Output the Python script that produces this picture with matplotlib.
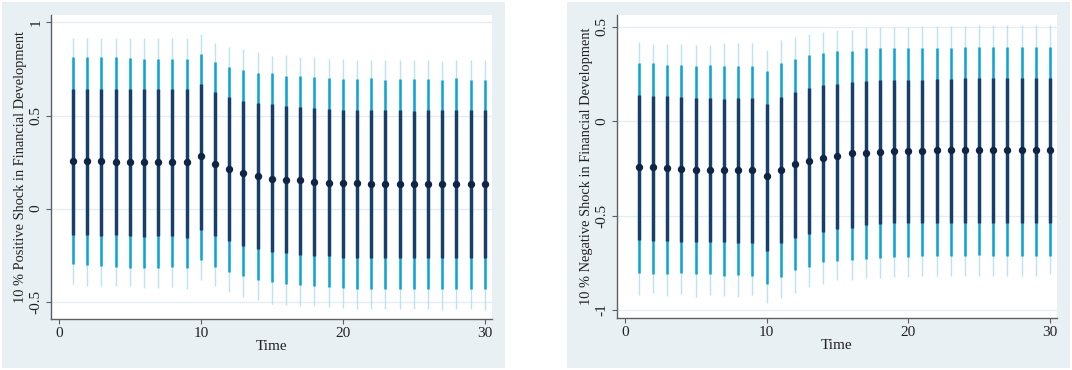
import matplotlib.pyplot as plt
from matplotlib.patches import Rectangle

plt.rcParams['font.family'] = ['Liberation Serif', 'DejaVu Serif']

time = list(range(1, 31))

# 10 % positive shock: point estimate and three confidence bands
pos_irf = [0.258, 0.256, 0.254, 0.252, 0.250, 0.249, 0.249, 0.249, 0.249, 0.281,
           0.238, 0.211, 0.191, 0.177, 0.161, 0.156, 0.151, 0.143, 0.140, 0.136,
           0.135, 0.134, 0.134, 0.134, 0.133, 0.133, 0.133, 0.133, 0.133, 0.133]
pos_dark_lo = [-0.140, -0.140, -0.147, -0.144, -0.147, -0.152, -0.149, -0.149, -0.158, -0.117,
               -0.147, -0.176, -0.201, -0.219, -0.233, -0.237, -0.249, -0.256, -0.256, -0.263,
               -0.264, -0.265, -0.265, -0.265, -0.267, -0.265, -0.266, -0.266, -0.266, -0.266]
pos_dark_hi = [0.645, 0.645, 0.643, 0.640, 0.642, 0.643, 0.643, 0.643, 0.643, 0.672,
               0.624, 0.597, 0.578, 0.565, 0.561, 0.550, 0.546, 0.538, 0.534, 0.530,
               0.530, 0.528, 0.528, 0.528, 0.526, 0.528, 0.528, 0.528, 0.528, 0.528]
pos_mid_lo = [-0.299, -0.304, -0.306, -0.313, -0.317, -0.317, -0.317, -0.313, -0.317, -0.278,
              -0.313, -0.341, -0.364, -0.382, -0.394, -0.407, -0.412, -0.418, -0.421, -0.428,
              -0.430, -0.430, -0.430, -0.432, -0.432, -0.430, -0.432, -0.430, -0.432, -0.432]
pos_mid_hi = [0.812, 0.812, 0.812, 0.814, 0.810, 0.806, 0.806, 0.806, 0.806, 0.833,
              0.788, 0.761, 0.744, 0.729, 0.729, 0.711, 0.711, 0.708, 0.699, 0.697,
              0.697, 0.699, 0.692, 0.695, 0.695, 0.695, 0.692, 0.699, 0.692, 0.692]
pos_lite_lo = [-0.407, -0.418, -0.418, -0.414, -0.418, -0.425, -0.425, -0.421, -0.430, -0.385,
               -0.416, -0.448, -0.475, -0.489, -0.511, -0.520, -0.525, -0.525, -0.529, -0.536,
               -0.538, -0.538, -0.540, -0.538, -0.540, -0.538, -0.545, -0.540, -0.538, -0.545]
pos_lite_hi = [0.919, 0.919, 0.917, 0.919, 0.914, 0.917, 0.914, 0.914, 0.914, 0.940,
               0.887, 0.869, 0.860, 0.842, 0.819, 0.824, 0.815, 0.815, 0.806, 0.802,
               0.800, 0.800, 0.800, 0.800, 0.800, 0.800, 0.792, 0.800, 0.800, 0.800]

# 10 % negative shock
neg_irf = [-0.242, -0.245, -0.250, -0.254, -0.256, -0.256, -0.256, -0.259, -0.259, -0.291,
           -0.256, -0.228, -0.212, -0.194, -0.182, -0.171, -0.166, -0.162, -0.159, -0.157,
           -0.157, -0.155, -0.155, -0.154, -0.154, -0.154, -0.153, -0.153, -0.152, -0.151]
neg_dark_lo = [-0.630, -0.633, -0.633, -0.638, -0.638, -0.638, -0.642, -0.643, -0.643, -0.686,
               -0.647, -0.621, -0.598, -0.585, -0.573, -0.563, -0.550, -0.545, -0.541, -0.541,
               -0.538, -0.538, -0.538, -0.538, -0.538, -0.538, -0.538, -0.538, -0.538, -0.538]
neg_dark_hi = [0.138, 0.132, 0.132, 0.129, 0.120, 0.122, 0.116, 0.125, 0.122, 0.090,
               0.129, 0.155, 0.173, 0.190, 0.199, 0.208, 0.212, 0.217, 0.217, 0.220,
               0.220, 0.224, 0.224, 0.226, 0.226, 0.226, 0.226, 0.226, 0.226, 0.226]
neg_mid_lo = [-0.802, -0.810, -0.810, -0.806, -0.811, -0.811, -0.818, -0.815, -0.820, -0.864,
              -0.827, -0.788, -0.771, -0.748, -0.741, -0.735, -0.730, -0.723, -0.718, -0.718,
              -0.714, -0.714, -0.714, -0.714, -0.710, -0.714, -0.714, -0.714, -0.714, -0.712]
neg_mid_hi = [0.310, 0.310, 0.296, 0.298, 0.291, 0.296, 0.293, 0.291, 0.291, 0.266,
              0.310, 0.328, 0.349, 0.361, 0.370, 0.370, 0.385, 0.385, 0.385, 0.385,
              0.388, 0.388, 0.388, 0.390, 0.393, 0.390, 0.390, 0.390, 0.393, 0.390]
neg_lite_lo = [-0.921, -0.912, -0.926, -0.915, -0.930, -0.921, -0.926, -0.930, -0.921, -0.965,
               -0.938, -0.910, -0.880, -0.862, -0.841, -0.841, -0.832, -0.829, -0.824, -0.824,
               -0.820, -0.820, -0.820, -0.822, -0.820, -0.820, -0.820, -0.820, -0.820, -0.808]
neg_lite_hi = [0.420, 0.411, 0.411, 0.411, 0.402, 0.402, 0.414, 0.414, 0.414, 0.376,
               0.429, 0.446, 0.464, 0.473, 0.485, 0.485, 0.496, 0.496, 0.499, 0.499,
               0.502, 0.502, 0.505, 0.505, 0.508, 0.508, 0.508, 0.508, 0.508, 0.508]

W, H = 1072, 370
fig = plt.figure(figsize=(W / 100, H / 100), dpi=100, facecolor='white')

bg = '#e8f0f3'
for x0 in (2, 567):
    r = Rectangle((x0 / W, 2 / H), 503 / W, 366 / H, transform=fig.transFigure,
                  facecolor=bg, edgecolor='none', zorder=-10)
    fig.patches.append(r)


def panel(rect, irf, bands, ylim, yticks, yticklabels, ylabel):
    ax = fig.add_axes(rect, facecolor='white', zorder=1)
    (dlo, dhi), (mlo, mhi), (llo, lhi) = bands
    ax.vlines(time, llo, lhi, color='#bde2f3', lw=1.0, zorder=2)
    ax.vlines(time, mlo, mhi, color='#0aa3d4', lw=1.8, zorder=3)
    ax.vlines(time, dlo, dhi, color='#173f6b', lw=2.5, zorder=4)
    ax.plot(time, irf, 'o', color='#0f2447', ms=4.3, zorder=5)
    ax.set_xlim(-0.55, 30.5)
    ax.set_ylim(*ylim)
    ax.set_xticks([0, 10, 20, 30])
    ax.set_yticks(yticks)
    ax.set_yticklabels(yticklabels, rotation=90, va='center')
    ax.grid(axis='y', color='#e4edf0', lw=1.0)
    ax.set_axisbelow(True)
    for s in ['top', 'right']:
        ax.spines[s].set_visible(False)
    for s in ['left', 'bottom']:
        ax.spines[s].set_color('#606060')
        ax.spines[s].set_linewidth(1.0)
    ax.tick_params(colors='#606060', labelcolor='#222222', labelsize=11,
                   length=3.5, width=0.8, pad=2.5)
    ax.set_xlabel('Time', fontsize=11, color='#222222', labelpad=0)
    ax.set_ylabel(ylabel, fontsize=10.4, color='#222222', labelpad=2)
    return ax


panel([51 / W, 51 / H, 441 / W, 304 / H], pos_irf,
      [(pos_dark_lo, pos_dark_hi), (pos_mid_lo, pos_mid_hi), (pos_lite_lo, pos_lite_hi)],
      (-0.593, 1.04), [-0.5, 0, 0.5, 1], ['-0.5', '0', '0.5', '1'],
      '10 % Positive Shock in Financial Development')

panel([617 / W, 52 / H, 440 / W, 303 / H], neg_irf,
      [(neg_dark_lo, neg_dark_hi), (neg_mid_lo, neg_mid_hi), (neg_lite_lo, neg_lite_hi)],
      (-1.042, 0.562), [-1, -0.5, 0, 0.5], ['-1', '-0.5', '0', '0.5'],
      '10 % Negative Shock in Financial Development')

fig.savefig('out.png', dpi=100, facecolor='white')
